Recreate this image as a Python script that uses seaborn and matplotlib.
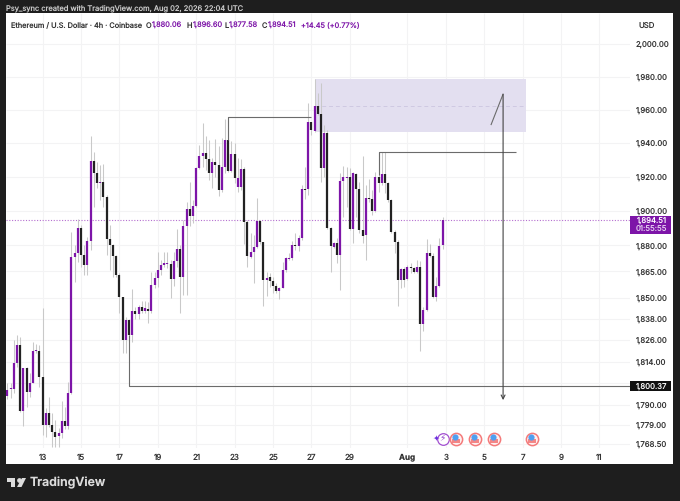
import matplotlib
matplotlib.use("Agg")
import numpy as np
import pandas as pd
from matplotlib import pyplot as plt
from matplotlib.patches import Rectangle, Polygon
from matplotlib.ticker import FixedLocator, FixedFormatter, NullLocator
import seaborn as sns

# 4h candles, Jul 11 20:00 to Aug 2 20:00
opens = [1795.0, 1798.5, 1798.9, 1813.3, 1823.2, 1786.6, 1810.2, 1797.2, 1802.2, 1819.7,
         1820.0, 1805.2, 1778.9, 1785.6, 1778.9, 1775.3, 1773.0, 1774.4, 1781.2, 1778.3,
         1796.3, 1873.4, 1875.3, 1890.3, 1874.3, 1868.4, 1882.6, 1929.6, 1922.4, 1916.2,
         1917.0, 1908.2, 1883.4, 1879.9, 1873.8, 1862.9, 1850.5, 1826.0, 1837.3, 1829.0,
         1842.2, 1840.5, 1844.7, 1842.6, 1843.3, 1842.2, 1857.0, 1861.2, 1865.8, 1868.4,
         1869.2, 1869.2, 1860.6, 1870.7, 1878.0, 1862.0, 1891.0, 1900.9, 1896.9, 1902.9,
         1925.0, 1932.3, 1934.3, 1930.4, 1922.0, 1928.8, 1926.8, 1912.2, 1925.6, 1941.9,
         1923.4, 1933.3, 1913.8, 1913.8, 1924.8, 1893.6, 1873.4, 1876.3, 1878.8, 1894.2,
         1882.0, 1859.8, 1861.6, 1859.4, 1856.6, 1853.9, 1855.3, 1865.8, 1872.2, 1872.4,
         1880.1, 1879.5, 1884.0, 1912.8, 1912.8, 1952.4, 1947.3, 1962.1, 1957.2, 1925.0,
         1945.9, 1890.1, 1879.1, 1881.4, 1874.3, 1917.7, 1919.5, 1919.7, 1889.7, 1921.6,
         1912.6, 1888.8, 1885.9, 1907.8, 1907.2, 1900.1, 1920.1, 1916.2, 1921.6, 1916.6,
         1906.4, 1887.9, 1882.0, 1860.0, 1866.1, 1860.4, 1867.6, 1867.2, 1864.8, 1867.6,
         1835.0, 1843.0, 1875.3, 1873.8, 1850.1, 1856.6, 1880.06]
highs = [1802.0, 1801.8, 1826.0, 1828.8, 1827.5, 1810.5, 1811.0, 1807.4, 1825.0, 1823.8,
         1823.2, 1844.3, 1788.1, 1794.2, 1785.3, 1781.6, 1777.1, 1792.3, 1789.0, 1802.8,
         1887.9, 1880.1, 1895.0, 1891.7, 1880.1, 1884.9, 1944.5, 1934.9, 1929.0, 1927.0,
         1927.6, 1909.2, 1891.7, 1881.0, 1874.3, 1863.9, 1850.5, 1839.2, 1837.7, 1854.9,
         1844.9, 1845.8, 1848.1, 1848.1, 1847.7, 1864.8, 1864.8, 1875.9, 1871.4, 1876.3,
         1876.3, 1871.4, 1876.3, 1889.7, 1880.1, 1894.6, 1905.4, 1917.2, 1906.4, 1926.0,
         1938.9, 1951.8, 1944.0, 1941.9, 1931.0, 1942.5, 1938.0, 1943.0, 1954.2, 1953.8,
         1941.0, 1940.3, 1931.0, 1930.4, 1926.0, 1894.6, 1886.9, 1885.9, 1907.6, 1894.6,
         1882.0, 1864.8, 1863.9, 1862.0, 1858.1, 1856.2, 1870.5, 1873.4, 1875.3, 1882.6,
         1887.3, 1885.9, 1915.2, 1925.6, 1964.2, 1952.8, 1978.4, 1970.3, 1976.0, 1950.8,
         1947.9, 1890.6, 1882.0, 1884.0, 1922.0, 1926.6, 1926.0, 1925.0, 1923.0, 1922.4,
         1917.2, 1932.3, 1915.2, 1918.5, 1912.2, 1923.0, 1934.9, 1934.9, 1934.9, 1917.2,
         1907.2, 1888.8, 1883.0, 1866.7, 1867.6, 1868.6, 1869.6, 1867.6, 1871.4, 1871.0,
         1844.9, 1883.4, 1881.0, 1875.7, 1862.0, 1884.0, 1896.60]
lows = [1793.0, 1793.6, 1796.3, 1811.0, 1786.2, 1778.5, 1788.7, 1794.5, 1801.8, 1818.5,
        1800.0, 1773.5, 1772.6, 1778.0, 1767.1, 1767.1, 1767.1, 1771.7, 1777.0, 1776.5,
        1796.0, 1859.0, 1870.5, 1867.6, 1862.9, 1862.9, 1877.2, 1902.1, 1913.2, 1906.4,
        1902.1, 1874.3, 1865.8, 1862.0, 1862.0, 1841.5, 1818.9, 1818.9, 1825.0, 1825.0,
        1837.9, 1837.9, 1841.1, 1841.5, 1835.8, 1841.5, 1855.3, 1856.2, 1862.9, 1867.6,
        1866.7, 1849.9, 1856.6, 1867.6, 1841.5, 1851.5, 1851.5, 1891.0, 1892.7, 1902.5,
        1924.4, 1926.0, 1924.0, 1918.1, 1913.2, 1920.0, 1908.6, 1911.2, 1922.0, 1923.0,
        1923.0, 1916.2, 1911.2, 1912.2, 1881.0, 1867.6, 1872.4, 1858.5, 1878.2, 1881.0,
        1845.5, 1851.0, 1856.2, 1852.4, 1852.8, 1849.0, 1855.3, 1864.8, 1871.4, 1871.8,
        1877.2, 1876.9, 1883.0, 1906.8, 1909.2, 1945.0, 1946.9, 1956.8, 1917.2, 1920.0,
        1889.7, 1864.8, 1878.2, 1869.6, 1854.3, 1896.5, 1902.1, 1888.8, 1881.6, 1896.5,
        1886.9, 1881.4, 1871.4, 1905.4, 1897.5, 1899.5, 1911.2, 1915.2, 1910.2, 1905.4,
        1886.9, 1875.7, 1845.5, 1855.3, 1856.2, 1860.0, 1863.9, 1863.9, 1863.9, 1820.0,
        1831.2, 1842.6, 1873.4, 1849.6, 1848.2, 1856.2, 1877.58]
closes = [1798.2, 1799.3, 1813.3, 1823.2, 1786.6, 1810.2, 1797.2, 1802.2, 1819.8, 1820.4,
          1805.2, 1778.9, 1785.6, 1778.9, 1775.3, 1772.6, 1774.4, 1781.2, 1778.3, 1796.3,
          1873.4, 1875.3, 1890.3, 1874.3, 1868.4, 1882.6, 1929.6, 1922.4, 1916.6, 1917.0,
          1908.2, 1883.4, 1879.9, 1873.8, 1862.9, 1850.5, 1826.0, 1837.3, 1829.0, 1842.2,
          1840.5, 1844.7, 1842.6, 1843.9, 1842.2, 1857.0, 1861.2, 1865.8, 1868.4, 1870.0,
          1869.6, 1860.6, 1870.7, 1878.0, 1862.0, 1891.0, 1900.9, 1896.9, 1902.9, 1925.0,
          1932.3, 1934.3, 1930.4, 1922.0, 1928.8, 1926.8, 1912.2, 1926.0, 1941.9, 1923.4,
          1933.3, 1919.1, 1919.1, 1924.8, 1893.6, 1873.8, 1876.3, 1878.8, 1894.2, 1882.0,
          1859.8, 1861.4, 1859.4, 1856.6, 1853.9, 1855.3, 1865.8, 1872.4, 1872.8, 1880.1,
          1879.7, 1884.0, 1912.8, 1912.2, 1952.4, 1947.9, 1962.1, 1957.2, 1925.0, 1945.9,
          1890.1, 1879.5, 1881.4, 1874.3, 1917.7, 1919.7, 1920.1, 1889.7, 1922.4, 1912.6,
          1888.8, 1885.5, 1907.8, 1907.2, 1900.1, 1920.1, 1916.2, 1921.6, 1916.6, 1906.4,
          1887.9, 1882.0, 1860.0, 1866.1, 1860.0, 1867.6, 1866.9, 1864.8, 1867.6, 1835.0,
          1843.0, 1875.3, 1873.8, 1850.1, 1856.6, 1879.5, 1894.51]

# 1,802 sits behind the black price box, so its label stays empty
price_ticks = [2000, 1980, 1960, 1940, 1920, 1900, 1880, 1865, 1850, 1838, 1826, 1814, 1802,
               1790, 1779, 1768.5]
price_labels = ["2,000.00", "1,980.00", "1,960.00", "1,940.00", "1,920.00", "1,900.00", "1,880.00",
                "1,865.00", "1,850.00", "1,838.00", "1,826.00", "1,814.00", "",
                "1,790.00", "1,779.00", "1,768.50"]
day_ticks = [11, 23, 35, 47, 59, 71, 83, 95, 107, 125, 137, 149, 161, 173, 185]
day_labels = ["13", "15", "17", "19", "21", "23", "25", "27", "29", "Aug", "3", "5", "7", "9", "11"]

last_price = 1894.51
target_price = 1800.37
zone_top, zone_mid, zone_bottom = 1978.4, 1962.5, 1946.8
event_x = [140.2, 146.1, 152.1, 164]
event_price = 1771.4

PURPLE = "#7d15a8"
BLACK = "#222222"
WICK = "#c9c9c9"
DRAW = "#6b6b6b"
W, H = 680, 501

sns.set_theme(style="white")
plt.rcParams["font.family"] = ["Inter", "DejaVu Sans"]
plt.rcParams["lines.solid_capstyle"] = "butt"
plt.rcParams["text.hinting"] = "no_hinting"


def fx(px):
    return px / W


def fy(py):
    return 1 - py / H


fig = plt.figure(figsize=(W / 100, H / 100), dpi=100, facecolor="#1e1e1e")
fig.add_artist(Rectangle((fx(6), fy(464)), fx(667), 451 / H, transform=fig.transFigure,
                         facecolor="white", edgecolor="none", zorder=-1))

ax = fig.add_axes([fx(6), fy(448), fx(624), 435 / H], facecolor="white")
ax.set_yscale("log")

idx = np.arange(len(opens))
df = pd.DataFrame({"i": idx, "open": opens, "high": highs, "low": lows, "close": closes})
df["up"] = df["close"] >= df["open"]

wicks = df.melt(id_vars="i", value_vars=["high", "low"], value_name="price")
sns.lineplot(data=wicks, x="i", y="price", units="i", estimator=None, color=WICK, lw=0.75,
             legend=False, ax=ax, zorder=3)

bodies = df.melt(id_vars=["i", "up"], value_vars=["open", "close"], value_name="price")
sns.lineplot(data=bodies, x="i", y="price", units="i", estimator=None, hue="up",
             palette={True: PURPLE, False: BLACK}, lw=1.6, legend=False, ax=ax, zorder=4)

ax.set_xlim(-0.44, 194.56)
ax.set_ylim(1766.4, 2019.2)
ax.set_xlabel("")
ax.set_ylabel("")

# axes
ax.yaxis.tick_right()
ax.yaxis.set_major_locator(FixedLocator(price_ticks))
ax.yaxis.set_major_formatter(FixedFormatter(price_labels))
ax.yaxis.set_minor_locator(NullLocator())
ax.xaxis.set_major_locator(FixedLocator(day_ticks))
ax.xaxis.set_major_formatter(FixedFormatter(day_labels))
ax.tick_params(axis="y", length=0, pad=4.3, labelsize=5.6, labelcolor="#333333")
ax.tick_params(axis="x", length=0, pad=4, labelsize=5.8, labelcolor="#333333")
ax.get_xticklabels()[9].set_fontweight("bold")
ax.grid(True, color="#f3f3f4", lw=0.8)
ax.set_axisbelow(True)
sns.despine(ax=ax, left=True, bottom=True, right=True, top=True)

# zone and drawings
ax.add_patch(Rectangle((96, zone_bottom), 66, zone_top - zone_bottom, facecolor="#e3dff0",
                       edgecolor="none", zorder=2))
ax.plot([96, 162], [zone_mid, zone_mid], color="#cfc9e2", lw=0.7, ls=(0, (4, 3)), zorder=2.5)
ax.axhline(last_price, color="#b56fd0", lw=0.8, ls=(0, (1, 1.5)), zorder=2.5)

ax.plot([69, 69, 95], [1941.9, 1955.4, 1955.4], color=DRAW, lw=0.8, zorder=5)
ax.plot([116, 116, 159], [1921.0, 1934.9, 1934.9], color=DRAW, lw=0.8, zorder=5)
ax.plot([38, 38, 194.56], [1829.0, target_price, target_price], color=DRAW, lw=0.8, zorder=5)
ax.plot([151.1, 154.9], [1950.8, 1969.5], color=DRAW, lw=0.8, zorder=5)
ax.annotate("", xy=(154.9, 1792.6), xytext=(154.9, 1969.5), zorder=5,
            arrowprops=dict(arrowstyle="->", color="#444444", lw=0.8, mutation_scale=7,
                            shrinkA=0, shrinkB=0))

# event icons
ax.scatter([136], [event_price], s=70, facecolor="white", edgecolor="#a24fd0", lw=0.9, zorder=6)
ax.text(136, event_price, "\u26a1", color="#8e3cc8", fontsize=6.5, ha="center", va="center",
        family=["DejaVu Sans"], zorder=7)
ax.text(134, event_price - 0.6, "\u2726", color="#6b2fe0", fontsize=6, ha="center", va="center",
        family=["DejaVu Sans"], zorder=7)
ax.scatter(event_x, [event_price] * 4, s=78, facecolor="#fff0f0", edgecolor="#f47a7a", lw=1.1, zorder=6)
ax.scatter(event_x, [event_price - 0.4] * 4, s=34, marker="_", color="#f06666", lw=1.1, zorder=7)
ax.scatter(event_x, [event_price - 1.5] * 4, s=26, marker="_", color="#f06666", lw=1.1, zorder=7)
ax.scatter([x - 0.4 for x in event_x], [event_price + 1.0] * 4, s=20, marker="o", color="#4f9ff0", lw=0, zorder=8)

# price boxes
fig.add_artist(Rectangle((fx(630), fy(234)), fx(40.5), 18 / H, transform=fig.transFigure,
                         facecolor=PURPLE, edgecolor="none", zorder=8))
fig.text(fx(667), fy(220.5), f"{last_price:,.2f}", color="white", fontsize=5.6, ha="right", va="center", zorder=9)
fig.text(fx(667), fy(229), "01:55:55", color="#e4cdf0", fontsize=5.6, ha="right", va="center", zorder=9)
fig.add_artist(Rectangle((fx(630), fy(391)), fx(40.5), 10 / H, transform=fig.transFigure,
                         facecolor="#111111", edgecolor="none", zorder=8))
fig.text(fx(667), fy(386), f"{target_price:,.2f}", color="white", fontsize=5.6, ha="right", va="center", zorder=9)

# header
fig.text(fx(6), fy(9), "Psy_sync created with TradingView.com, Aug 02, 2026 22:04 UTC", color="#c8c8c8",
         fontsize=5.4, va="center")
fig.text(fx(11), fy(26), "Ethereum / U.S. Dollar \u00b7 4h \u00b7 Coinbase", color="#333333", fontsize=5.3, va="center")
header = [(146, "O", "#333333"), (152, "1,880.06", PURPLE), (187, "H", "#333333"), (193, "1,896.60", PURPLE),
          (225, "L", "#333333"), (229, "1,877.58", PURPLE), (262, "C", "#333333"), (268, "1,894.51", PURPLE),
          (301, "+14.45 (+0.77%)", PURPLE)]
for hx, txt, col in header:
    fig.text(fx(hx), fy(26), txt, color=col, fontsize=5.3, va="center")
fig.text(fx(638), fy(26), "USD", color="#333333", fontsize=5.6, va="center")

# footer logo
LOGO = "#dcdcdc"
logo = [[(7, 478), (15, 478), (15, 487), (11, 487), (11, 481.5), (7, 481.5)],
        [(22, 478), (26, 478), (21.5, 487), (17, 487)]]
for pts in logo:
    fig.add_artist(Polygon([(fx(a), fy(b)) for a, b in pts], transform=fig.transFigure,
                           facecolor=LOGO, edgecolor="none"))
fig.add_artist(plt.Line2D([fx(18.5)], [fy(480)], marker="o", ms=2.4, color=LOGO, lw=0,
                          transform=fig.transFigure))
fig.text(fx(30), fy(483), "TradingView", color=LOGO, fontsize=8.9, fontweight="semibold", va="center")

fig.savefig("out.png", dpi=100, facecolor=fig.get_facecolor())
